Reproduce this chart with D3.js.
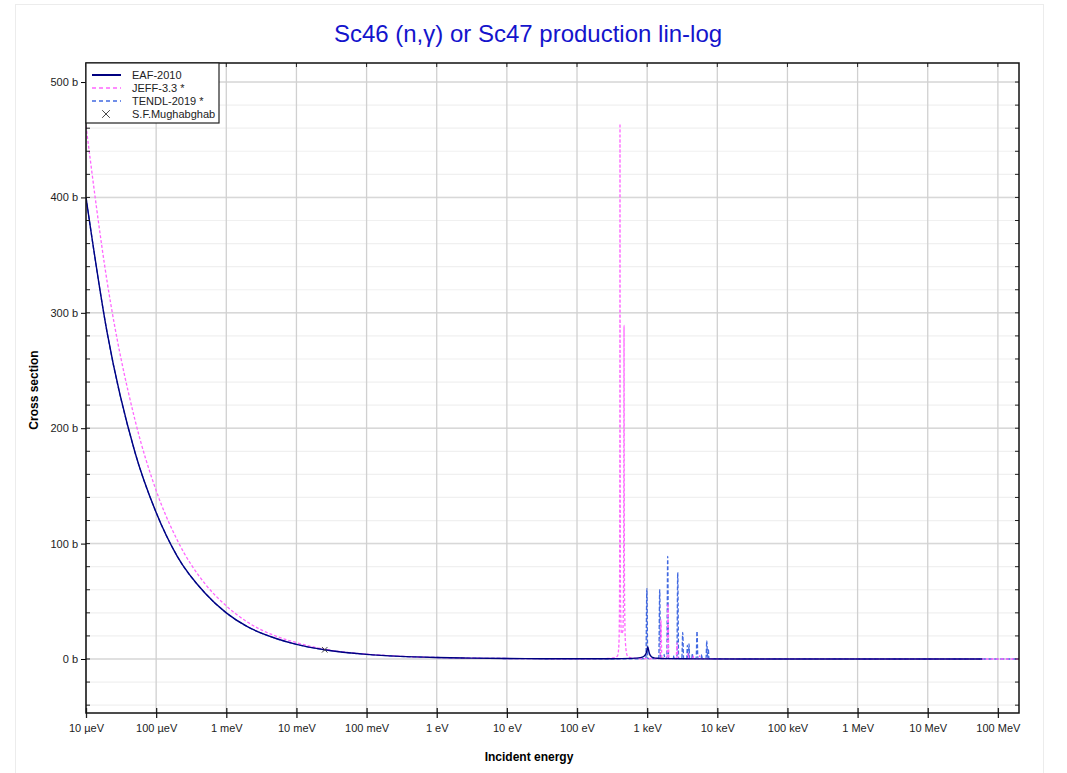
<!DOCTYPE html>
<html>
<head>
<meta charset="utf-8">
<script src="https://cdn.jsdelivr.net/npm/d3@7"></script>
<style>
  body { margin: 0; background: #fff; font-family: "Liberation Sans", Arial, sans-serif; }
  .tick text { font-size: 11px; fill: #222; font-family: "Liberation Sans", Arial, sans-serif; }
</style>
</head>
<body>
<svg id="chart" width="1067" height="773"></svg>
<script>
// x axis (energy, eV)
const xTickValues = [1e-5, 1e-4, 1e-3, 1e-2, 1e-1, 1, 10, 100, 1e3, 1e4, 1e5, 1e6, 1e7, 1e8]
const xTickLabels = ['10 µeV', '100 µeV', '1 meV', '10 meV', '100 meV', '1 eV', '10 eV', '100 eV',
                     '1 keV', '10 keV', '100 keV', '1 MeV', '10 MeV', '100 MeV']
const yTickValues = [0, 100, 200, 300, 400, 500]
const yMinorValues = [-40, -20, 0, 20, 40, 60, 80, 100, 120, 140, 160, 180, 200, 220, 240, 260, 280,
                      300, 320, 340, 360, 380, 400, 420, 440, 460, 480, 500]

// EAF-2010
const eafE = [1e-5, 2e-5, 5e-5, 1e-4, 2e-4, 5e-4, 1e-3, 2e-3, 5e-3, 1e-2, 0.0253, 0.1, 0.3, 1, 3, 10, 30, 100,
              300, 600, 800, 900, 960, 1000, 1020, 1045, 1080, 1150, 1250, 1400, 2000, 5000, 2e4, 1e5, 1e6, 1e7, 6e7]
const eafB = [400, 283, 179, 127, 89, 57, 40, 28, 18, 12.7, 8, 4, 2.3, 1.3, 0.75, 0.42, 0.25, 0.16,
              0.2, 0.5, 1.2, 2.4, 4.5, 8, 10.4, 8, 4.5, 2, 1, 0.6, 0.3, 0.12, 0.06, 0.03, 0.01, 0.005, 0.003]

// JEFF-3.3 *
const jeffE = [1e-5, 2e-5, 5e-5, 1e-4, 2e-4, 5e-4, 1e-3, 2e-3, 5e-3, 1e-2, 0.0253, 0.1, 0.3, 1, 3, 10, 30, 100,
               200, 300, 350, 380, 395, 403, 408, 410, 412, 417, 430, 450, 460, 465, 468, 471, 476, 490, 520, 600,
               800, 1000, 1530, 1574, 1620, 1925, 1982, 2040, 2590, 2667, 2745, 3720, 3830, 3940,
               4430, 4520, 4610, 5500, 5620, 5740, 1e4, 1e5, 1e6, 1e7, 1e8, 2e8]
const jeffB = [462, 327, 207, 146, 103, 65, 46, 32, 20, 14.2, 8.4, 4.2, 2.4, 1.3, 0.75, 0.42, 0.26, 0.18,
               0.3, 0.6, 1.2, 3, 12, 45, 200, 464, 200, 50, 22, 24, 60, 160, 289, 160, 55, 14, 3, 0.8,
               0.4, 0.3, 0.4, 34, 0.4, 0.4, 48, 0.4, 0.4, 14, 0.4, 0.3, 5, 0.3,
               0.3, 3, 0.3, 0.3, 3, 0.3, 0.2, 0.06, 0.02, 0.008, 0.003, 0.002]

// TENDL-2019 *
const tendlE = [1e-5, 2e-5, 5e-5, 1e-4, 2e-4, 5e-4, 1e-3, 2e-3, 5e-3, 1e-2, 0.0253, 0.1, 0.3, 1, 3, 10, 30, 100,
                300, 700, 960, 990, 1020, 1465, 1510, 1555, 1720, 1750, 1780,
                1905, 1963, 2020, 2360, 2400, 2440, 2650, 2728, 2810,
                3120, 3214, 3310, 3665, 3740, 3815, 3880, 3955, 4030, 4330, 4400, 4470,
                4990, 5140, 5290, 5900, 6000, 6100, 6900, 7080, 7260, 7300, 7450, 7600,
                1e4, 1e5, 1e6, 1e7, 1e8, 2e8]
const tendlB = [400, 283, 179, 127, 89, 57, 40, 28, 18, 12.7, 8, 4, 2.3, 1.3, 0.75, 0.42, 0.25, 0.16,
                0.12, 0.15, 0.3, 61, 0.3, 0.4, 60, 0.4, 0.3, 4, 0.3,
                0.4, 89, 0.4, 0.3, 3, 0.3, 0.4, 75, 0.4,
                0.4, 23, 0.4, 0.3, 12, 0.3, 0.3, 13, 0.3, 0.3, 5, 0.3,
                0.4, 24, 0.4, 0.3, 4, 0.3, 0.3, 16, 0.3, 0.3, 9, 0.3,
                0.2, 0.06, 0.02, 0.008, 0.003, 0.002]

// S.F.Mughabghab thermal point
const mughE = [0.0253]
const mughB = [8.0]

const plot = { left: 86, right: 1019, top: 63, bottom: 713 }

const svg = d3.select('#chart')

const x = d3.scaleLog().domain([1e-5, 2e8]).range([plot.left, plot.right])
const y = d3.scaleLinear().domain([-46.8, 516.5]).range([plot.bottom, plot.top])

// outer frame
svg.append('rect')
    .attr('x', 15.5).attr('y', 4.5)
    .attr('width', 1028).attr('height', 780)
    .attr('fill', 'none').attr('stroke', '#ececec')

svg.append('text')
    .attr('x', 528).attr('y', 42)
    .attr('text-anchor', 'middle')
    .style('font-size', '24px')
    .style('fill', '#1414cc')
    .text('Sc46 (n,γ) or Sc47 production lin-log')

// grid
const grid = svg.append('g')
grid.selectAll('line.minor').data(yMinorValues).enter().append('line')
    .attr('x1', plot.left).attr('x2', plot.right)
    .attr('y1', d => y(d)).attr('y2', d => y(d))
    .attr('stroke', '#f0f0f0').attr('stroke-width', 1.2)
grid.selectAll('line.major').data(yTickValues).enter().append('line')
    .attr('x1', plot.left).attr('x2', plot.right)
    .attr('y1', d => y(d)).attr('y2', d => y(d))
    .attr('stroke', '#d8d8d8').attr('stroke-width', 1.5)
grid.selectAll('line.vert').data(xTickValues).enter().append('line')
    .attr('x1', d => x(d)).attr('x2', d => x(d))
    .attr('y1', plot.top).attr('y2', plot.bottom)
    .attr('stroke', '#d0d0d0').attr('stroke-width', 1.3)

// curves
svg.append('clipPath').attr('id', 'clip')
    .append('rect')
    .attr('x', plot.left).attr('y', plot.top)
    .attr('width', plot.right - plot.left).attr('height', plot.bottom - plot.top)

const line = d3.line()
    .x(d => x(d[0]))
    .y(d => y(d[1]))
    .curve(d3.curveMonotoneX)

const series = [
    { name: 'TENDL-2019 *', E: tendlE, B: tendlB, color: '#4169e1', dash: '4,2', w: 1.3 },
    { name: 'JEFF-3.3 *', E: jeffE, B: jeffB, color: '#ff66ff', dash: '3,2', w: 1.3 },
    { name: 'EAF-2010', E: eafE, B: eafB, color: '#000080', dash: null, w: 1.4 }
]

const curves = svg.append('g').attr('clip-path', 'url(#clip)')
series.forEach(s => {
    curves.append('path')
        .attr('d', line(s.E.map((e, i) => [e, s.B[i]])))
        .attr('fill', 'none')
        .attr('stroke', s.color)
        .attr('stroke-width', s.w)
        .attr('stroke-dasharray', s.dash)
})

const cross = d3.symbol().type(d3.symbolX).size(22)
curves.selectAll('path.mugh').data(mughE).enter().append('path')
    .attr('transform', (d, i) => `translate(${x(d)},${y(mughB[i])})`)
    .attr('d', cross)
    .attr('fill', 'none')
    .attr('stroke', '#444')
    .attr('stroke-width', 1)

// axes
const yAxis = svg.append('g')
    .attr('transform', `translate(${plot.left},0)`)
    .call(d3.axisLeft(y).tickValues(yTickValues).tickFormat(d => d + ' b').tickSize(5).tickPadding(3))
yAxis.select('.domain').remove()

svg.append('g').selectAll('line').data(yMinorValues).enter().append('line')
    .attr('x1', plot.left).attr('x2', plot.left + 4)
    .attr('y1', d => y(d)).attr('y2', d => y(d))
    .attr('stroke', '#222')
svg.append('g').selectAll('line').data(yMinorValues).enter().append('line')
    .attr('x1', plot.right - 4).attr('x2', plot.right)
    .attr('y1', d => y(d)).attr('y2', d => y(d))
    .attr('stroke', '#222')

const xAxis = svg.append('g')
    .attr('transform', `translate(0,${plot.bottom})`)
    .call(d3.axisBottom(x).tickValues(xTickValues).tickFormat((d, i) => xTickLabels[i]).tickSize(5).tickPadding(6))
xAxis.select('.domain').remove()
xAxis.selectAll('.tick line').attr('y1', -5).attr('stroke', '#222').attr('stroke-width', 1.3)

svg.append('g').selectAll('line').data(xTickValues).enter().append('line')
    .attr('x1', d => x(d)).attr('x2', d => x(d))
    .attr('y1', plot.top).attr('y2', plot.top + 4)
    .attr('stroke', '#222')

svg.append('rect')
    .attr('x', plot.left).attr('y', plot.top)
    .attr('width', plot.right - plot.left).attr('height', plot.bottom - plot.top)
    .attr('fill', 'none').attr('stroke', '#111').attr('stroke-width', 1.5)

svg.append('text')
    .attr('x', 529).attr('y', 761)
    .attr('text-anchor', 'middle')
    .style('font-size', '12px').style('font-weight', 'bold')
    .text('Incident energy')

svg.append('text')
    .attr('transform', `translate(38,${(plot.top + plot.bottom) / 2 + 2}) rotate(-90)`)
    .attr('text-anchor', 'middle')
    .style('font-size', '12px').style('font-weight', 'bold')
    .text('Cross section')

// legend
const legendItems = [
    { label: 'EAF-2010', color: '#000080', dash: null, w: 2 },
    { label: 'JEFF-3.3 *', color: '#ff66ff', dash: '4,3', w: 1.5 },
    { label: 'TENDL-2019 *', color: '#4169e1', dash: '4,3', w: 1.5 },
    { label: 'S.F.Mughabghab', marker: true }
]
const legend = svg.append('g').attr('transform', `translate(${plot.left},${plot.top})`)
legend.append('rect')
    .attr('width', 133).attr('height', 60)
    .attr('fill', '#fff').attr('stroke', '#222').attr('stroke-width', 1.2)
legendItems.forEach((it, i) => {
    const ly = 12 + i * 13
    if (it.marker) {
        legend.append('path')
            .attr('transform', `translate(20,${ly})`)
            .attr('d', d3.symbol().type(d3.symbolX).size(40)())
            .attr('fill', 'none').attr('stroke', '#333').attr('stroke-width', 0.9)
    } else {
        legend.append('line')
            .attr('x1', 6).attr('x2', 35).attr('y1', ly).attr('y2', ly)
            .attr('stroke', it.color).attr('stroke-width', it.w)
            .attr('stroke-dasharray', it.dash)
    }
    legend.append('text')
        .attr('x', 46).attr('y', ly + 4)
        .style('font-size', '11px').style('fill', '#222')
        .text(it.label)
})
</script>
</body>
</html>
